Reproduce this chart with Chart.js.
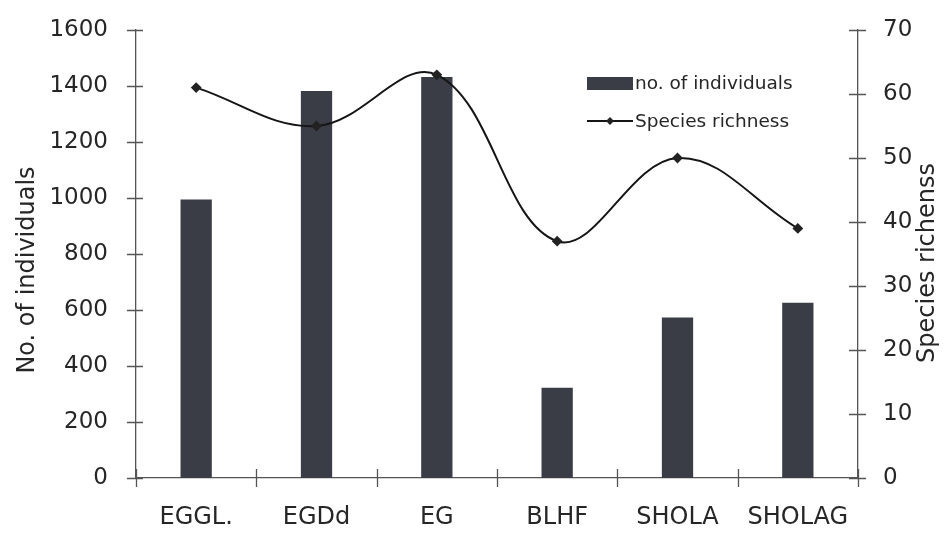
<!DOCTYPE html>
<html>
<head>
<meta charset="utf-8">
<script src="https://cdn.jsdelivr.net/npm/chart.js@4.4.1/dist/chart.umd.min.js"></script>
<style>
  html, body { margin: 0; padding: 0; background: #fff; }
  #wrap { width: 945px; height: 534px; }
</style>
</head>
<body>
<div id="wrap"><canvas id="chart"></canvas></div>
<script>
// forest types along the x axis
const sites = ['EGGL.', 'EGDd', 'EG', 'BLHF', 'SHOLA', 'SHOLAG'];
// bars: number of individuals (left axis)
const individuals = [995, 1382, 1432, 322, 573, 626];
// line: species richness (right axis)
const richness = [61, 55, 63, 37, 50, 39];

const leftMax = 1600, leftStep = 200;
const rightMax = 70, rightStep = 10;

const FONT = "'DejaVu Sans', sans-serif";
const INK = '#262626';
const AXIS = '#555';

// tick marks that cross the axis lines, axis titles and the in-plot legend
const extras = {
    id: 'extras',
    afterDraw(chart) {
        const c = chart.ctx;
        const area = chart.chartArea;
        const y = chart.scales.y, y1 = chart.scales.y1, x = chart.scales.x;
        c.save();
        c.strokeStyle = AXIS;
        c.lineWidth = 1.3;
        c.beginPath();
        for (let v = 0; v <= leftMax; v += leftStep) {
            const py = Math.round(y.getPixelForValue(v)) + 0.5;
            c.moveTo(area.left - 9, py); c.lineTo(area.left + 7, py);
        }
        for (let v = 0; v <= rightMax; v += rightStep) {
            const py = Math.round(y1.getPixelForValue(v)) + 0.5;
            c.moveTo(area.right - 9, py); c.lineTo(area.right + 8, py);
        }
        const half = (x.getPixelForValue(1) - x.getPixelForValue(0)) / 2;
        for (let i = 0; i <= sites.length; i++) {
            const px = Math.round(x.getPixelForValue(i) - half) + 0.5;
            c.moveTo(px, area.bottom - 9); c.lineTo(px, area.bottom + 9);
        }
        c.stroke();

        // axis titles, both reading bottom to top
        c.fillStyle = INK;
        c.font = '24px ' + FONT;
        c.textAlign = 'center';
        c.textBaseline = 'middle';
        c.save();
        c.translate(28, 270);
        c.rotate(-Math.PI / 2);
        c.fillText('No. of individuals', 0, 0);
        c.restore();
        c.save();
        c.translate(928, 263);
        c.rotate(-Math.PI / 2);
        c.fillText('Species richenss', 0, 0);
        c.restore();

        // legend
        const bar = chart.data.datasets[0], line = chart.data.datasets[1];
        c.font = '18.5px ' + FONT;
        c.textAlign = 'left';
        c.fillStyle = bar.backgroundColor;
        c.fillRect(587, 77, 46, 13);
        c.fillStyle = INK;
        c.fillText(bar.label, 635, 84);
        c.strokeStyle = line.borderColor;
        c.lineWidth = 2;
        c.beginPath();
        c.moveTo(587, 121); c.lineTo(633, 121);
        c.stroke();
        c.fillStyle = line.pointBackgroundColor;
        c.beginPath();
        c.moveTo(610, 117); c.lineTo(614, 121); c.lineTo(610, 125); c.lineTo(606, 121);
        c.closePath(); c.fill();
        c.fillStyle = INK;
        c.fillText(line.label, 635, 122);
        c.restore();
    }
};

new Chart(document.getElementById('chart'), {
    data: {
        labels: sites,
        datasets: [
            {
                type: 'bar',
                label: 'no. of individuals',
                data: individuals,
                yAxisID: 'y',
                backgroundColor: '#3a3d46',
                categoryPercentage: 1,
                barPercentage: 0.26,
                order: 1
            },
            {
                type: 'line',
                label: 'Species richness',
                data: richness,
                yAxisID: 'y1',
                borderColor: '#151515',
                borderWidth: 2,
                tension: 0.38,
                pointStyle: 'rectRot',
                pointRadius: 4,
                pointBackgroundColor: '#222',
                pointBorderColor: '#222',
                order: 0
            }
        ]
    },
    options: {
        responsive: true,
        maintainAspectRatio: false,
        animation: false,
        layout: { padding: { top: 30, left: 0, right: 0, bottom: 0 } },
        plugins: { legend: { display: false }, tooltip: { enabled: false } },
        scales: {
            // label gaps come from tickLength (grid hidden) so the plot top stays put
            x: {
                grid: { display: false, drawTicks: true, tickLength: 25 },
                border: { display: true, color: AXIS, width: 1.3 },
                ticks: { color: INK, font: { family: FONT, size: 24 }, padding: 0, maxRotation: 0 },
                afterFit(s) { s.height = 56; }
            },
            y: {
                position: 'left',
                min: 0, max: leftMax,
                grid: { display: false, drawTicks: true, tickLength: 28 },
                border: { display: true, color: AXIS, width: 1.3 },
                ticks: { stepSize: leftStep, color: INK, font: { family: FONT, size: 23 }, padding: 0, callback: v => String(v) },
                afterFit(s) { s.width = 136; }
            },
            y1: {
                position: 'right',
                min: 0, max: rightMax,
                grid: { display: false, drawTicks: true, tickLength: 25 },
                border: { display: true, color: AXIS, width: 1.3 },
                ticks: { stepSize: rightStep, color: INK, font: { family: FONT, size: 23 }, padding: 0, callback: v => String(v) },
                afterFit(s) { s.width = 87; }
            }
        }
    },
    plugins: [extras]
});
</script>
</body>
</html>
